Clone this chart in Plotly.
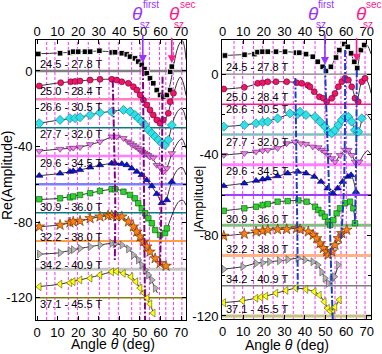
import plotly.graph_objects as go

FONT = "Liberation Sans, Arial, sans-serif"
W, H = 382, 354

# ---------------- data ----------------
field_labels = ["24.5 - 27.8 T", "25.0 - 28.4 T", "26.6 - 30.5 T", "27.7 - 32.0 T",
                "29.6 - 34.5 T", "30.9 - 36.0 T", "32.2 - 38.0 T", "34.2 - 40.9 T",
                "37.1 - 45.5 T"]
offsets = [0, -15, -30, -45, -60, -75, -90, -105, -120]

# Re(Amplitude) panel: measured points (angle, value relative to baseline)
re_theta = [
    [0.6, 11.2, 16, 17.6, 20, 23.3, 25.8, 30.3, 36.3, 37.9, 41.2, 43.6, 45.2, 47.6, 49.2, 50.9, 52.2, 53.3, 54.9, 56.5, 58.2, 59.8, 61.4, 63.1, 64.7, 64.7, 65.5],
    [1.1, 11.5, 16.4, 18.5, 20.9, 25.8, 30.6, 36.3, 38.7, 41.2, 44.4, 46.8, 48.5, 50.1, 51.7, 53.3, 54.9, 56.5, 58.2, 59.8, 61.4, 63.8, 64.7, 66.3],
    [1.1, 11.2, 16, 18.5, 20.9, 25.8, 30.6, 36.3, 42, 45.2, 47.6, 49.2, 50.9, 52.5, 54.1, 55.8, 57.4, 59, 60.6, 62.2, 63.8, 65.5],
    [1.1, 11.2, 16, 17.6, 20.9, 25.8, 30.6, 36.3, 38.7, 42, 44.2, 45.5, 46.7, 47.9, 49.1, 50, 51, 52, 53, 54, 54.9, 56.5, 58.2, 59.8, 61.4, 63.1, 65.5],
    [1.1, 11.2, 16, 17.6, 20.9, 25.8, 30.6, 36.3, 37.9, 41.2, 43.6, 46, 48.5, 50.9, 53.3, 55.8, 58.2, 60.6, 63.1, 65.5],
    [1.1, 11.2, 16, 17.6, 20.9, 25.8, 30.6, 36.3, 37.9, 42, 45.2, 47.6, 49.2, 50.9, 52.5, 54.1, 55.8, 57.4, 59.8, 62.2, 63.1],
    [1.1, 11.2, 16, 17.6, 20.9, 25.8, 30.6, 34.5, 36.3, 38.7, 41.2, 44.4, 46.8, 48.5, 50.1, 51.7, 53.3, 54.9, 57.4, 59.8, 62.7],
    [1.1, 11.2, 16, 17.6, 20.9, 25.8, 30.6, 36.3, 37.9, 41.2, 44.4, 46.8, 49.2, 50.9, 52.5, 54.1, 55.8, 57.4],
    [1.1, 11.2, 16, 17.6, 20.9, 25.8, 30.6, 36.3, 38.7, 42, 45.7, 48.1, 50.1, 52, 53.5, 54.9, 56.5],
]
re_value = [
    [9.0, 9.4, 9.7, 10.2, 10.2, 10.2, 10.2, 10.7, 9.8, 9.9, 9.4, 8.8, 7.6, 6.7, 5.0, 3.2, 1.0, -1.2, -3.9, -6.5, -10.1, -12.7, -13.6, -12.7, -10.1, -0.4, 2.3],
    [7.1, 8.8, 9.3, 9.5, 9.7, 10.2, 10.6, 10.6, 10.2, 9.3, 8.5, 6.7, 4.9, 2.3, -0.4, -3.0, -5.6, -8.3, -10.9, -12.7, -10.9, -7.4, -1.3, 3.2],
    [2.3, 4.1, 5.0, 5.0, 5.5, 6.7, 7.9, 8.5, 9.4, 8.5, 6.7, 5.0, 3.2, 1.4, -1.2, -3.0, -4.8, -6.5, -8.3, -9.2, -6.5, 1.4],
    [2.6, 3.7, 4.1, 4.3, 4.6, 6.2, 7.6, 10.3, 10.2, 9.4, 7.6, 6.7, 5.8, 5.0, 4.1, 3.2, 2.3, 1.7, 1.1, 0.4, -0.4, -1.0, -4.8, -5.8, -8.3, -6.5, 1.4],
    [4.6, 5.8, 6.7, 7.0, 7.6, 9.0, 10.2, 11.1, 11.1, 10.8, 10.2, 8.5, 6.7, 5.0, 2.3, -0.9, -5.1, -9.9, -8.3, 1.4],
    [7.1, 7.6, 8.1, 8.6, 9.4, 10.3, 11.5, 12.4, 12.4, 11.1, 9.4, 7.6, 5.0, 2.3, -0.3, -3.0, -5.6, -9.2, -11.8, -10.8, -8.3],
    [7.6, 8.5, 9.7, 10.2, 10.6, 12.0, 12.9, 13.5, 13.5, 12.9, 12.9, 10.2, 7.6, 4.9, 2.3, -0.4, -3.0, -5.7, -9.2, -11.8, -13.2],
    [8.1, 8.8, 9.9, 10.4, 11.1, 12.0, 12.9, 13.8, 13.4, 12.9, 10.8, 7.6, 5.0, 2.3, -0.3, -3.0, -5.6, -10.0],
    [5.8, 7.2, 7.9, 8.5, 9.4, 10.3, 12.0, 13.7, 13.9, 12.9, 11.1, 8.5, 5.1, 2.5, -0.2, -3.3, -8.1],
]
# Re panel: fitted curves
re_fit_theta = [
    [0, 10, 20, 30, 36, 40, 44, 48, 52, 55, 58, 60, 61.8, 63.5, 65, 66.5, 68, 69.5, 70.7, 71.7, 72.4],
    [0, 10, 20, 30, 36, 40, 44, 48, 52, 56, 58.5, 60.3, 62, 63.8, 65.3, 66.8, 68.3, 69.6, 71, 72.4],
    [0, 10, 20, 30, 36, 42, 46, 50, 54, 58, 60.6, 62.2, 63.8, 65.5, 67, 68.7, 70.2, 71.5, 72.4],
    [0, 10, 20, 30, 36, 40, 44, 48, 52, 56, 59, 61.4, 63, 65, 67, 69, 70.5, 71.5, 72.4],
    [0, 10, 20, 30, 36, 40, 44, 48, 52, 56, 58.5, 60.6, 62.5, 64.5, 66.5, 68.5, 70.5, 72.4],
    [0, 10, 20, 30, 36, 40, 44, 48, 52, 55, 58, 59.8, 61.5, 63.1, 65, 67, 69, 71, 72.4],
    [0, 10, 20, 30, 36, 41, 44, 48, 52, 56, 60, 62.7, 64.5],
    [0, 10, 20, 30, 36, 41, 44, 48, 52, 55, 57.4, 58.5],
    [0, 10, 20, 30, 36, 39, 42, 46, 50, 53, 55, 56.5],
]
re_fit_value = [
    [9.1, 9.5, 10.1, 10.5, 10.2, 9.6, 8.4, 5.6, 1.2, -4.2, -9.6, -12.8, -13.7, -11.8, -5.5, 3.5, 11, 15, 16, 12.5, 6],
    [7, 8.6, 9.7, 10.5, 10.6, 9.8, 8.6, 5.4, -0.9, -8, -11.4, -12.7, -11.2, -7, -0.5, 4.5, 9.5, 11.8, 9, 2],
    [2.2, 3.9, 5.4, 7.7, 8.6, 9.2, 7.9, 4.2, -1.1, -5.5, -8.2, -9.1, -6.3, 1, 6, 9.2, 10.2, 8, 4],
    [2.5, 3.6, 4.5, 7.3, 9.9, 10, 8.2, 4.6, 1.7, -1.5, -5.5, -8.2, -6.5, -0.5, 4.5, 8, 9, 7, 4],
    [4.5, 5.6, 7.4, 10, 11, 11, 10, 7.2, 3.6, -1.5, -5.5, -9.6, -8.6, -2, 4.5, 8, 9, 5],
    [7, 7.5, 9.2, 11.3, 12.3, 12, 10.2, 6.5, 0.3, -4.5, -9.8, -11.7, -11, -8.3, -3, 2.5, 6, 6.5, 4],
    [7.5, 8.4, 10.4, 12.7, 13.4, 12.8, 10.8, 5.6, -0.8, -7.5, -12, -13.2, -12.5],
    [8, 8.7, 10.9, 12.8, 13.7, 13, 11.2, 6.3, 0.5, -4.5, -10, -12.5],
    [5.8, 7, 9.2, 11.8, 13.6, 13.8, 13, 11, 5.3, 0.5, -3.5, -8],
]

# |Amplitude| panel: measured points
abs_theta = [
    [1.1, 10.6, 15.4, 16.9, 19.3, 21.9, 25.9, 30.3, 35.6, 37.2, 40.5, 43.8, 46.2, 48.6, 50.2, 52.6, 55.1, 56.7, 59.1, 60.8, 62.4, 64, 65.4, 67.2, 68.8],
    [0.5, 10.5, 17, 19.4, 21.9, 25.9, 31.1, 36, 38.4, 41.3, 42.4, 44.5, 47, 48.9, 50.6, 53, 54.6, 56.2, 57.9, 59.5, 61.1, 62.7, 64.3, 65.9, 67.6, 69.2],
    [0.5, 10.5, 16.2, 19.4, 21.9, 26.7, 32.7, 36.5, 37.6, 40.5, 44.9, 47.3, 49.7, 51.3, 53, 54.6, 56.2, 57.9, 59.5, 61.1, 62.7, 64.3, 65.9, 67.6],
    [0.5, 10.5, 16.2, 19.4, 21.9, 26.7, 31.1, 35.1, 38.1, 40.5, 43.8, 46.5, 48.3, 49.7, 51.3, 53, 54.6, 57, 59.5, 61.1, 62.7, 64.3, 66.4],
    [0.5, 10.5, 16.2, 19.4, 21.9, 26.7, 31.6, 36.5, 40.5, 44.5, 47.8, 51, 53.5, 55.9, 58.3, 60.8, 62.4, 64.8],
    [0.5, 10.5, 16.2, 19.4, 21.9, 26.7, 31.6, 36.8, 40.8, 44.9, 46.5, 48.1, 49.7, 51.3, 52.2, 53.8, 55.4, 57, 59.5, 61.9, 63.5, 64.3],
    [0.5, 10.5, 16.2, 19.4, 21.9, 26.7, 31.1, 36, 37.6, 41.6, 44, 45.7, 47.3, 48.9, 50.6, 51.3, 53, 54.6, 56.2, 57.9, 60.3],
    [0.5, 9.7, 16.2, 19.4, 22.7, 27.5, 31.6, 36.5, 40, 43.8, 46.2, 48.1, 49.7, 51.3, 53, 54.3, 56.2],
    [0.5, 9.7, 16.2, 18.6, 21, 25.9, 30.8, 35.6, 40.5, 44.5, 47, 49.4, 51, 52.2, 53.5, 54.6, 56.7],
]
abs_value = [
    [9.2, 9.6, 9.9, 10.9, 11.1, 11.1, 11.1, 11.1, 10.6, 10.6, 9.9, 8.6, 6.1, 3.6, 1.5, 3.6, 8.2, 11.9, 14.9, 13.5, 10.3, 6.1, 3.0, 11.9, 14.4],
    [7.6, 8.4, 10.4, 10.7, 11.2, 11.2, 11.2, 10.7, 10.4, 9.5, 8.7, 6.2, 3.7, 3.0, 1.3, 3.0, 5.4, 8.7, 11.2, 12.9, 12.0, 8.7, 3.0, 1.3, 11.2, 12.9],
    [3.9, 4.7, 5.6, 6.1, 6.4, 8.0, 10.5, 10.2, 11.3, 9.7, 8.8, 6.4, 3.9, 1.4, 0.6, 2.2, 4.7, 7.2, 8.8, 8.8, 6.4, 2.2, 1.4, 8.0],
    [4.8, 5.7, 6.5, 7.0, 7.3, 8.2, 10.6, 11.4, 10.6, 10.3, 9.0, 8.6, 7.3, 6.3, 4.8, 3.2, 1.5, 4.8, 7.3, 7.3, 4.8, 1.5, 1.5],
    [4.5, 5.8, 7.1, 7.8, 8.3, 9.4, 10.8, 11.6, 10.8, 9.1, 6.6, 3.3, 0.9, 3.3, 6.6, 9.1, 9.9, 1.6],
    [7.2, 8.4, 9.2, 10.0, 10.5, 11.7, 12.0, 12.3, 11.7, 9.2, 7.6, 5.9, 4.2, 1.8, 0.1, 2.6, 5.9, 8.4, 10.9, 11.7, 8.4, 1.0],
    [9.7, 10.7, 11.8, 12.2, 12.7, 12.9, 13.0, 13.5, 12.9, 11.8, 10.2, 8.5, 6.0, 3.6, 1.9, 0.3, 1.9, 5.2, 8.5, 11.0, 12.7],
    [8.2, 9.5, 11.1, 11.4, 11.9, 12.4, 13.0, 13.6, 12.8, 11.9, 10.3, 6.8, 3.7, 1.2, 2.9, 4.5, 10.3],
    [6.6, 7.6, 8.8, 9.3, 9.9, 11.3, 12.7, 13.8, 13.2, 12.1, 10.4, 7.1, 3.8, 2.5, 3.0, 4.5, 8.0],
]
abs_fit_theta = [
    [0, 10, 20, 30, 36, 40, 44, 47, 50.2, 53, 56, 59.3, 61, 63, 65.3, 67, 69, 70.5, 72.1],
    [0, 10, 20, 30, 36, 40, 44, 47, 50.6, 53, 56, 59.5, 61.3, 63, 65.2, 67.3, 69.2, 70.8, 72.1],
    [0, 10, 20, 27, 33, 37, 41, 45, 48, 51.3, 53, 56, 59.5, 61.3, 63, 64.8, 66.3, 68, 70, 72.1],
    [0, 10, 20, 27, 31, 35, 39, 43, 47, 50, 53, 54.6, 57, 59.5, 61.3, 63, 64.6, 66.5, 68.5, 70.5, 72.1],
    [0, 10, 20, 27, 32, 36.5, 40.5, 44.5, 48, 51, 53.5, 56, 58.3, 60.8, 62.4, 63.6, 64.8],
    [0, 10, 20, 27, 32, 37, 41, 45, 48, 50, 52.2, 54, 56, 59.5, 62, 63.5, 64.3],
    [0, 10, 20, 27, 31, 36, 41, 44, 46, 48, 50, 51.3, 53, 55, 57, 60.3],
    [0, 10, 16, 22, 28, 32, 36.5, 40, 44, 46.2, 48, 50, 51.3, 53, 54.5, 56.2],
    [0, 10, 16, 21, 26, 31, 35.6, 40.5, 44.5, 47, 49.4, 51, 52.2, 53.5, 55, 56.7],
]
abs_fit_value = [
    [9.2, 9.7, 10.8, 11.1, 10.7, 10, 8.4, 5.3, 1.6, 4.4, 10.5, 14.8, 13.6, 8.5, 2.8, 11.5, 14.6, 14, 10],
    [7.5, 8.4, 10.8, 11.2, 10.8, 9.8, 6.7, 3.7, 1.3, 3.1, 8.3, 12.8, 12.1, 8, 1.3, 10.5, 12.9, 10.5, 5.5],
    [3.9, 4.7, 6.3, 8.1, 10.4, 10.8, 9.8, 8.6, 5.5, 1.4, 0.7, 4.6, 8.8, 8.6, 5.5, 1.6, 2.5, 8, 10, 7],
    [4.8, 5.7, 7, 8.3, 10.3, 11.2, 10.7, 9.3, 8.2, 6, 3.4, 1.5, 4.8, 7.3, 7.2, 4.6, 1.5, 1.8, 5, 7, 5],
    [4.5, 5.8, 7.9, 9.4, 10.9, 11.6, 10.8, 9.1, 6.3, 3.3, 0.9, 3.5, 6.6, 9.1, 9.8, 7, 1.6],
    [7.2, 8.3, 10, 11.7, 12.1, 12.3, 11.6, 9.1, 5.9, 3.5, 0.1, 3, 6.3, 10.9, 11.7, 8.4, 1.2],
    [9.7, 10.7, 12.2, 12.9, 13, 13.4, 12.1, 10.2, 8, 4.6, 2, 0.3, 1.9, 6, 9.6, 12.7],
    [8.2, 9.5, 11.1, 11.9, 12.4, 13, 13.6, 12.8, 11.8, 10.2, 7.2, 3, 1.2, 2.9, 5, 10.3],
    [6.6, 7.6, 8.8, 9.9, 11.3, 12.7, 13.8, 13.2, 12.1, 10.4, 7.1, 3.8, 2.5, 3, 5, 8],
]

# label heights (axis units)
re_label_y = [3.7, -10.4, -19.1, -33.5, -48.5, -72.0, -87.7, -102.7, -123.3]
abs_label_y = [3.6, -11.3, -17.5, -33.6, -48.1, -71.9, -86.8, -101.6, -116.7]

# theta_sz guide curves (dash-dot)
re_guide_theta = [[36.8, 37.5, 38.0, 37.8], [51.4, 51.8, 52.2, 52.5], [61.0, 60.7, 60.2, 59.7]]
re_guide_y = [[-5, -40, -70, -100], [8, -40, -90, -131.8], [-3, -50, -85, -104]]
abs_guide_theta = [[35.3, 35.8, 36.3, 36.5], [49.7, 50.8, 51.8, 52.5, 53.5],
                   [59.5, 59.4, 58.8, 57.5], [65.2, 65.0, 64.6, 64.2]]
abs_guide_y = [[-2, -40, -80, -107], [4, -30, -60, -90, -121.5],
               [12, -30, -60, -82], [2, -30, -60, -75]]

# measurement-angle grid lines
re_grid_angles = [4.7, 8.7, 15.2, 19.6, 24.9, 30.3, 35, 39.5, 46, 50.1, 54.6, 59.5, 62.6, 66.3, 70.4]
abs_grid_angles = [5.5, 9.7, 15, 19.4, 24.5, 29.5, 34.3, 39.2, 44.9, 49.7, 54.6, 57.5, 60.1, 65, 69.2]

# theta_sz arrows: [angle, value] per panel
re_arrow_first = [51.4, 4.2]
re_arrow_sec = [65.5, 4.1]
abs_arrow_first = [49.7, 4.5]
abs_arrow_sec = [65.1, 6.1]

x_tick_vals = [0, 10, 20, 30, 40, 50, 60, 70]
y_tick_vals = [0, -40, -80, -120]
y_tick_text = ["0", "-40", "-80", "-120"]

# ---------------- styles ----------------
marker_styles = [
    dict(symbol="square", size=5.5, color="black", line=dict(color="white", width=0.8)),
    dict(symbol="circle", size=6, color="#ee1466", line=dict(color="#700030", width=0.6)),
    dict(symbol="diamond", size=7, color="#30e0e8", line=dict(color="#007878", width=0.6)),
    dict(symbol="triangle-down", size=6.5, color="#f07ef0", line=dict(color="#602060", width=0.6)),
    dict(symbol="triangle-up", size=6.5, color="#0a14d0", line=dict(color="#000050", width=0.6)),
    dict(symbol="square", size=5.5, color="#30d030", line=dict(color="#005a00", width=0.6)),
    dict(symbol="star", size=8, color="#ff8010", line=dict(color="#5a2a00", width=0.6)),
    dict(symbol="triangle-right", size=7, color="#b4b4b4", line=dict(color="#505050", width=0.6)),
    dict(symbol="triangle-left", size=7, color="#ffff10", line=dict(color="#5a5a00", width=0.6)),
]
re_base_colors = ["#808080", "#ff80c0", "#008080", "#ff80ff", "#8080ff", "#008080", "#ff8000", "#c4c4c4", "#808000"]
re_base_widths = [2.5, 2.5, 1.5, 2.5, 2.5, 1.5, 1.5, 3, 1.5]
abs_base_colors = ["#808080", "#ff1493", "#80c0c0", "#ff80ff", "#8000ff", "#80c080", "#ffb380", "#808080", "#c8c080"]
abs_base_widths = [1.2, 1.5, 2.5, 3, 1.5, 3, 3, 1.5, 3]

dom_x1 = [36 / W, 186 / W]
dom_x2 = [222 / W, 371 / W]
dom_y1 = [1 - 320 / H, 1 - 40 / H]
dom_y2 = [1 - 319 / H, 1 - 40 / H]

fig = go.Figure()

panels = [
    dict(xa="x", ya="y", theta=re_theta, val=re_value, ft=re_fit_theta, fv=re_fit_value,
         gt=re_guide_theta, gy=re_guide_y, gcol="#800080"),
    dict(xa="x2", ya="y2", theta=abs_theta, val=abs_value, ft=abs_fit_theta, fv=abs_fit_value,
         gt=abs_guide_theta, gy=abs_guide_y, gcol="#1e3cc8"),
]

for p in panels:
    for i in range(len(offsets)):
        fig.add_trace(go.Scatter(
            x=p["ft"][i], y=[offsets[i] + v for v in p["fv"][i]],
            xaxis=p["xa"], yaxis=p["ya"], mode="lines",
            line=dict(color="black", width=0.8, shape="spline", smoothing=0.8),
            showlegend=False, hoverinfo="skip"))
    for i in range(len(offsets)):
        fig.add_trace(go.Scatter(
            x=p["theta"][i], y=[offsets[i] + v for v in p["val"][i]],
            xaxis=p["xa"], yaxis=p["ya"], mode="markers",
            marker=marker_styles[i], showlegend=False))
    for gx, gy in zip(p["gt"], p["gy"]):
        fig.add_trace(go.Scatter(
            x=gx, y=gy, xaxis=p["xa"], yaxis=p["ya"], mode="lines",
            line=dict(color=p["gcol"], width=2, dash="7px,2px,2px,2px", shape="spline"),
            showlegend=False, hoverinfo="skip"))

# dummy traces for the top tick-label axes
fig.add_trace(go.Scatter(x=[None], y=[None], xaxis="x3", yaxis="y", showlegend=False))
fig.add_trace(go.Scatter(x=[None], y=[None], xaxis="x4", yaxis="y2", showlegend=False))

# grid lines
for a in re_grid_angles:
    fig.add_shape(type="line", xref="x", yref="y domain", x0=a, x1=a, y0=0, y1=1,
                  line=dict(color="#ff30ff", width=1, dash="3px,2px"), layer="below")
for a in abs_grid_angles:
    fig.add_shape(type="line", xref="x2", yref="y2 domain", x0=a, x1=a, y0=0, y1=1,
                  line=dict(color="#ff30ff", width=1, dash="3px,2px"), layer="below")
# baselines
for i, off in enumerate(offsets):
    fig.add_shape(type="line", xref="x domain", yref="y", x0=0, x1=1, y0=off, y1=off,
                  line=dict(color=re_base_colors[i], width=re_base_widths[i]), layer="below")
    fig.add_shape(type="line", xref="x2 domain", yref="y2", x0=0, x1=1, y0=off, y1=off,
                  line=dict(color=abs_base_colors[i], width=abs_base_widths[i]), layer="below")

ann = []
for i, lab in enumerate(field_labels):
    ann.append(dict(x=0.5, y=re_label_y[i], xref="x", yref="y", text=lab, showarrow=False,
                    xanchor="left", yanchor="middle", font=dict(family=FONT, size=11, color="black")))
    ann.append(dict(x=0.6, y=abs_label_y[i], xref="x2", yref="y2", text=lab, showarrow=False,
                    xanchor="left", yanchor="middle", font=dict(family=FONT, size=11, color="black")))

COL_FIRST = "#9933ff"
COL_SEC = "#ff1a8c"
for (xr, yr, pos, col, ay) in [("x", "y", re_arrow_first, COL_FIRST, -30),
                               ("x", "y", re_arrow_sec, COL_SEC, -27),
                               ("x2", "y2", abs_arrow_first, COL_FIRST, -32),
                               ("x2", "y2", abs_arrow_sec, COL_SEC, -25)]:
    ann.append(dict(x=pos[0], y=pos[1], xref=xr, yref=yr, ax=0, ay=ay, text="",
                    showarrow=True, arrowhead=2, arrowsize=1, arrowwidth=1.6, arrowcolor=col))


def px(xp, yp, text, size, col, angle=0):
    return dict(x=xp / W, y=1 - yp / H, xref="paper", yref="paper", text=text, showarrow=False,
                xanchor="center", yanchor="middle", textangle=angle,
                font=dict(family=FONT, size=size, color=col))


for (tx, col, sup, sx, subx) in [(137.7, COL_FIRST, "first", 151, 145),
                                  (174.7, COL_SEC, "sec", 187.8, 179),
                                  (313, COL_FIRST, "first", 326.3, 320.5),
                                  (361.3, COL_SEC, "sec", 373.8, 368)]:
    ann.append(px(tx, 13, "<i>θ</i>", 19, col))
    ann.append(px(sx, 4.5, sup, 10, col))
    ann.append(px(subx, 24, "sz", 10, col))

ann.append(px(113, 343.5, "Angle <i>θ</i> (deg)", 14, "black"))
ann.append(px(287, 345, "Angle <i>θ</i> (deg)", 14, "black"))
ann.append(px(7, 176, "Re(Amplitude)", 14, "black", -90))
ann.append(px(198, 199.5, "|Amplitude|", 13.5, "black", -90))

axis_common = dict(showgrid=False, zeroline=False, showline=True, linecolor="black", linewidth=1,
                   ticks="inside", ticklen=4, tickcolor="black", mirror="ticks", automargin=False,
                   tickfont=dict(family=FONT, size=13, color="black"))
ycommon = dict(axis_common, tickvals=y_tick_vals, ticktext=y_tick_text,
               minor=dict(dtick=20, ticks="inside", ticklen=3, tickcolor="black"))
top_common = dict(showgrid=False, zeroline=False, showline=False, ticks="", side="top",
                  automargin=False, tickvals=x_tick_vals,
                  tickfont=dict(family=FONT, size=13, color="black"))

fig.update_layout(
    width=W, height=H, margin=dict(l=0, r=0, t=0, b=0, autoexpand=False),
    paper_bgcolor="white", plot_bgcolor="white", showlegend=False,
    xaxis=dict(axis_common, domain=dom_x1, range=[-0.5, 72.4], anchor="y", tickvals=x_tick_vals),
    yaxis=dict(ycommon, domain=dom_y1, range=[-131.8, 16.4], anchor="x"),
    xaxis2=dict(axis_common, domain=dom_x2, range=[-0.35, 72.1], anchor="y2", tickvals=x_tick_vals),
    yaxis2=dict(ycommon, domain=dom_y2, range=[-121.5, 16.9], anchor="x2"),
    xaxis3=dict(top_common, overlaying="x", anchor="y", range=[-0.5, 72.4]),
    xaxis4=dict(top_common, overlaying="x2", anchor="y2", range=[-0.35, 72.1]),
    annotations=ann,
)

fig.write_html("out.html", config={"displayModeBar": False},
               post_script="document.body.style.margin='0px';")
